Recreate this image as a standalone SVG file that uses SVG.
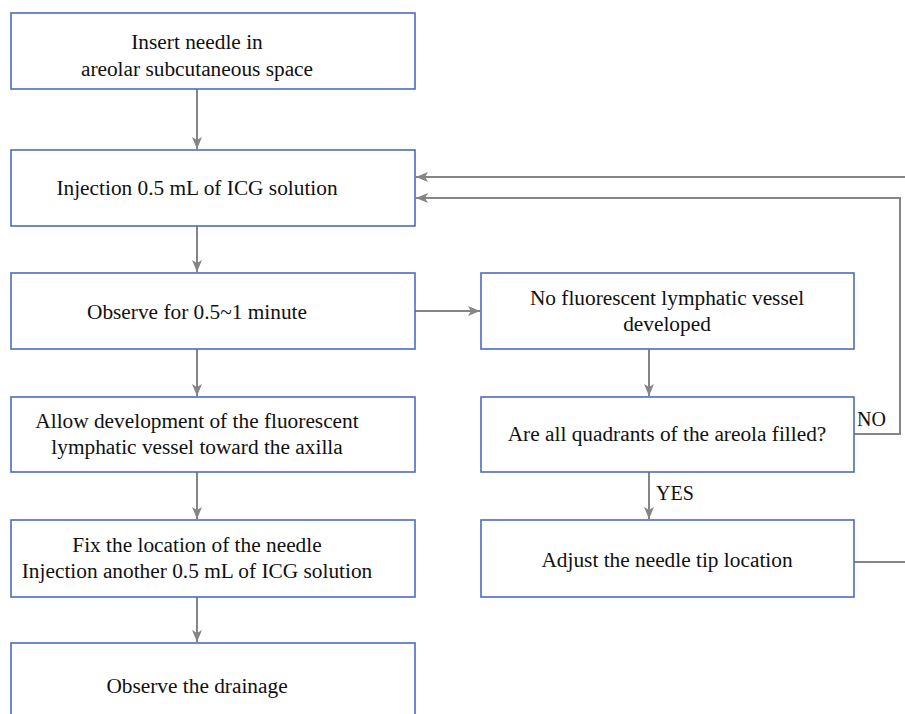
<svg xmlns="http://www.w3.org/2000/svg" width="905" height="714" viewBox="0 0 905 714">
<style>
.box{fill:#fff;stroke:#4a6cc4;stroke-width:1.6}
text{font-family:'Liberation Serif','Times New Roman',Tinos,'DejaVu Serif',serif;font-size:21.33px;fill:#111}
.t{text-anchor:middle;dominant-baseline:central}
.s{font-size:20px}
.c{fill:none;stroke:#858585;stroke-width:2}
</style>
<defs>
<marker id="a" viewBox="0 0 12 10" refX="12" refY="5" markerWidth="12" markerHeight="10" orient="auto" markerUnits="userSpaceOnUse">
<path d="M0,0 L12,5 L0,10 L3,5 Z" fill="#858585"/>
</marker>
</defs>
<rect width="905" height="714" fill="#fff"/>
<g id="connectors">
<line class="c" x1="197" y1="89" x2="197" y2="149" marker-end="url(#a)"/>
<line class="c" x1="197" y1="226" x2="197" y2="272" marker-end="url(#a)"/>
<line class="c" x1="197" y1="349" x2="197" y2="396" marker-end="url(#a)"/>
<line class="c" x1="197" y1="472" x2="197" y2="519" marker-end="url(#a)"/>
<line class="c" x1="197" y1="597" x2="197" y2="642" marker-end="url(#a)"/>
<line class="c" x1="415" y1="311" x2="480" y2="311" marker-end="url(#a)"/>
<line class="c" x1="649" y1="349" x2="649" y2="396" marker-end="url(#a)"/>
<line class="c" x1="649" y1="472" x2="649" y2="519" marker-end="url(#a)"/>
<polyline class="c" points="854,434 900,434 900,198 416,198" marker-end="url(#a)"/>
<polyline class="c" points="854,562 912,562 912,177 416,177" marker-end="url(#a)"/>
<text class="s" x="857" y="426">NO</text>
<text class="s" x="656" y="500">YES</text>
</g>
<g id="n1"><rect class="box" x="11" y="13" width="404" height="76"/><text class="t" x="197" y="42">Insert needle in</text><text class="t" x="197" y="69">areolar subcutaneous space</text></g>
<g id="n2"><rect class="box" x="11" y="150" width="404" height="76"/><text class="t" x="197" y="188">Injection 0.5 mL of ICG solution</text></g>
<g id="n3"><rect class="box" x="11" y="273" width="404" height="76"/><text class="t" x="197" y="312">Observe for 0.5~1 minute</text></g>
<g id="n4"><rect class="box" x="11" y="397" width="404" height="75"/><text class="t" x="197" y="421">Allow development of the fluorescent</text><text class="t" x="197" y="447">lymphatic vessel toward the axilla</text></g>
<g id="n5"><rect class="box" x="11" y="520" width="404" height="77"/><text class="t" x="197" y="545">Fix the location of the needle</text><text class="t" x="197" y="571">Injection another 0.5 mL of ICG solution</text></g>
<g id="n6"><rect class="box" x="11" y="643" width="404" height="80"/><text class="t" x="197" y="686">Observe the drainage</text></g>
<g id="r1"><rect class="box" x="481" y="273" width="373" height="76"/><text class="t" x="667" y="298">No fluorescent lymphatic vessel</text><text class="t" x="667" y="324">developed</text></g>
<g id="r2"><rect class="box" x="481" y="397" width="373" height="75"/><text class="t" x="667" y="434">Are all quadrants of the areola filled?</text></g>
<g id="r3"><rect class="box" x="481" y="520" width="373" height="77"/><text class="t" x="667" y="560">Adjust the needle tip location</text></g>
</svg>
